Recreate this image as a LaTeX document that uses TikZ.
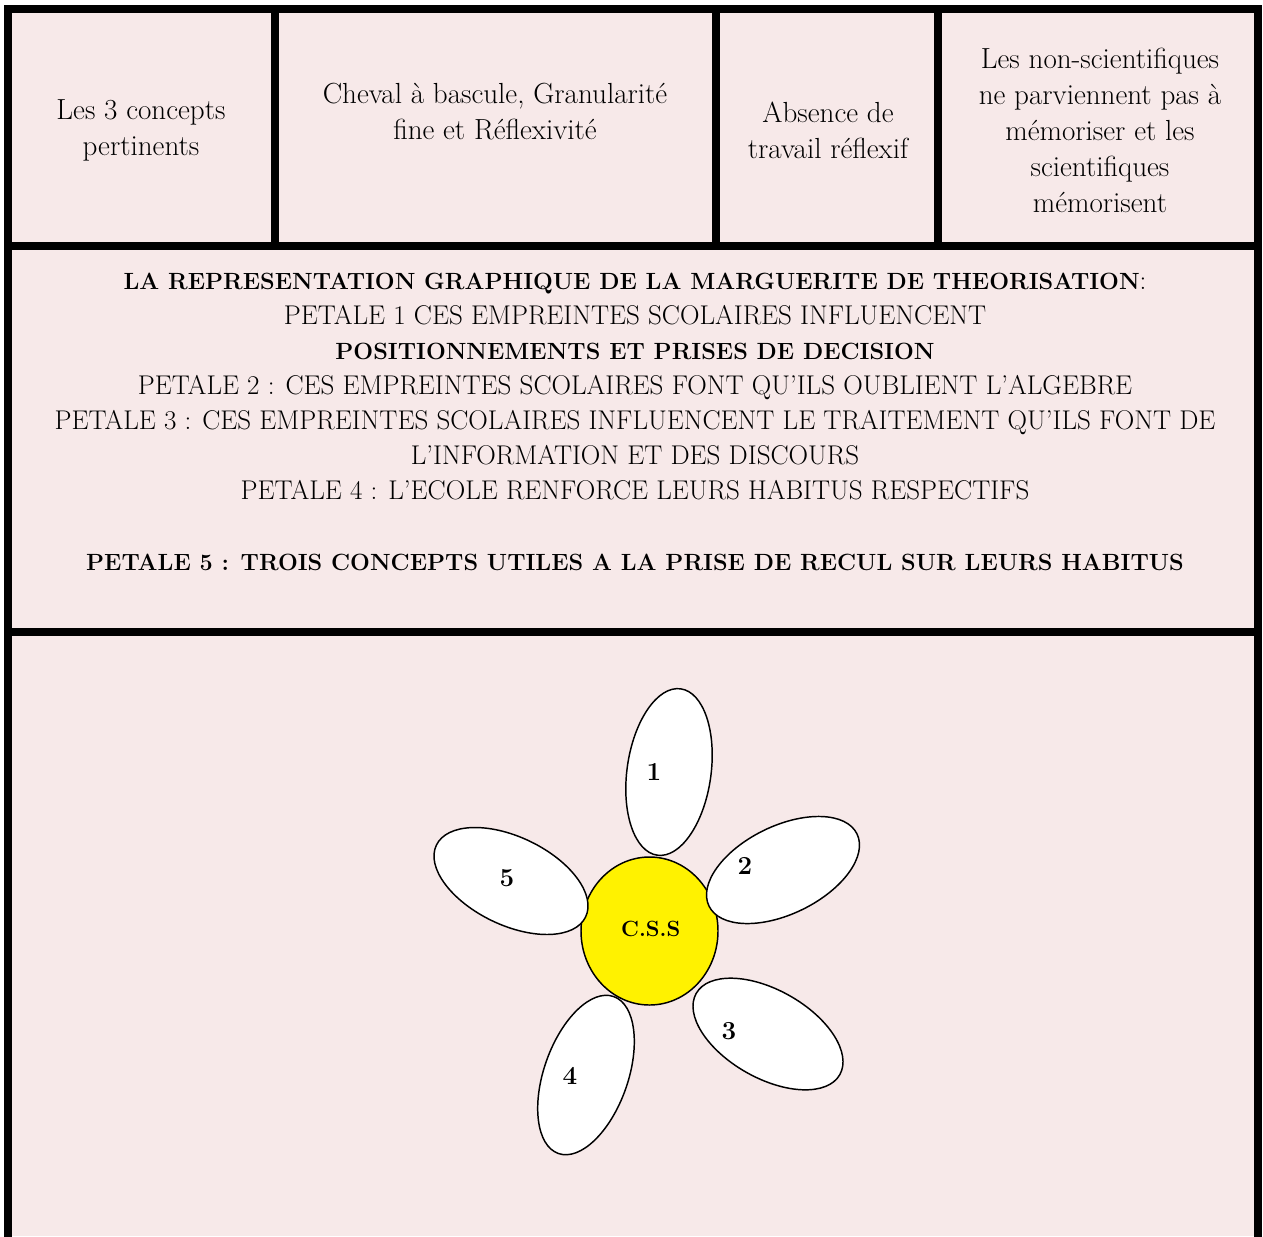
\documentclass[tikz,border=0pt]{standalone}
\usetikzlibrary{shapes.geometric}
\definecolor{blush}{RGB}{247,233,233}
\newcommand{\hd}[1]{{\fontsize{17.6}{26.25}\selectfont\bfseries #1}}

\begin{document}
\begin{tikzpicture}[x=0.75pt,y=-0.75pt,frame/.style={line width=6pt,line cap=rect},cell node/.style={align=center,font=\fontsize{21.8}{27}\selectfont},text node/.style={align=center,font=\fontsize{20.3}{26.25}\selectfont},petal/.style={ellipse,draw,fill=white,line width=1.1pt,inner sep=0pt},num node/.style={font=\fontsize{19.5}{20}\selectfont\bfseries}]

                    \useasboundingbox (0,0) rectangle (1263,1236);
                    \fill[blush] (8,9) rectangle (1258,1236);

                    \draw[frame] (8,1240) -- (8,9) -- (1258,9) -- (1258,1240);
                    \draw[frame] (8,246) -- (1258,246);
                    \draw[frame] (8,632) -- (1258,632);
                    \draw[frame] (275,9) -- (275,246);
                    \draw[frame] (716,9) -- (716,246);
                    \draw[frame] (937.5,9) -- (937.5,246);

                    \node (a) [cell node] at (141,130) {Les 3 concepts\\pertinents};
                    \node (b) [cell node] at (495,112) {Cheval à bascule, Granularité\\fine et Réflexivité};
                    \node (c) [cell node] at (828,130) {Absence de\\travail réflexif};
                    \node (d) [cell node] at (1100,130) {Les non-scientifiques\\ne parviennent pas à\\mémoriser et les\\scientifiques\\mémorisent};

                    \node (e) [text node] at (635,422) {\hd{LA REPRESENTATION GRAPHIQUE DE LA MARGUERITE DE THEORISATION}:\\
                    PETALE 1 CES EMPREINTES SCOLAIRES INFLUENCENT\\
                    \hd{POSITIONNEMENTS ET PRISES DE DECISION}\\
                    PETALE 2 : CES EMPREINTES SCOLAIRES FONT QU'ILS OUBLIENT L'ALGEBRE\\
                    PETALE 3 : CES EMPREINTES SCOLAIRES INFLUENCENT LE TRAITEMENT QU'ILS FONT DE\\
                    L'INFORMATION ET DES DISCOURS\\
                    PETALE 4 : L'ECOLE RENFORCE LEURS HABITUS RESPECTIFS\\[27pt]
                    \hd{PETALE 5 : TROIS CONCEPTS UTILES A LA PRISE DE RECUL SUR  LEURS HABITUS}};

                    \node (css) [ellipse,draw,fill=yellow,line width=1.1pt,minimum width=102.75pt,minimum height=111pt,inner sep=0pt] at (649.5,931) {};

                    \node (p1) [petal,minimum width=126pt,minimum height=63pt,rotate=82] at (669,772) {};
                    \node (p2) [petal,minimum width=123.5pt,minimum height=66pt,rotate=26] at (783,870) {};
                    \node (p3) [petal,minimum width=123.75pt,minimum height=66pt,rotate=-29.5] at (768,1034) {};
                    \node (p4) [petal,minimum width=124.8pt,minimum height=63pt,rotate=70.6] at (586,1075) {};
                    \node (p5) [petal,minimum width=124.2pt,minimum height=66pt,rotate=-25.7] at (511,881) {};

                    \node (n0) [num node,font=\fontsize{16.5}{18}\selectfont\bfseries] at (650.7,929) {C.S.S};
                    \node (n1) [num node] at (654,772) {1};
                    \node (n2) [num node] at (745,866) {2};
                    \node (n3) [num node] at (729,1031) {3};
                    \node (n4) [num node] at (570,1076) {4};
                    \node (n5) [num node] at (507,878) {5};
                \end{tikzpicture}
\end{document}
